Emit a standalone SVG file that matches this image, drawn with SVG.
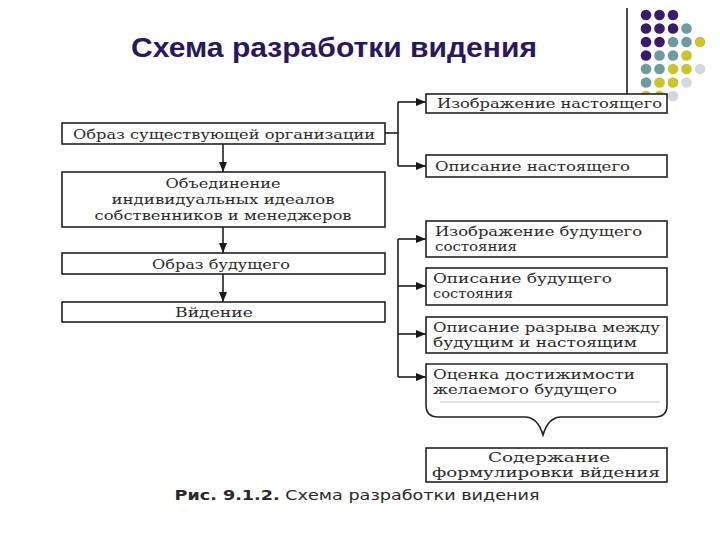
<svg xmlns="http://www.w3.org/2000/svg" width="720" height="540" viewBox="0 0 720 540">
<defs>
<marker id="ah" viewBox="0 0 10 8" refX="10" refY="4" markerWidth="10" markerHeight="8" markerUnits="userSpaceOnUse" orient="auto">
<path d="M0,0 L10,4 L0,8 Z" fill="#1a1a1a"/>
</marker>
<style>
.box{fill:#fff;stroke:#222;stroke-width:1.6}
.t{font-family:"DejaVu Serif","Liberation Serif",serif;font-size:13.5px;fill:#2a2a2a}
.c{text-anchor:middle}
.ln{fill:none;stroke:#1f1f1f;stroke-width:1.6}
.p{fill:#3a1a6a}.q{fill:#6e9c9e}.y{fill:#c9c52a}.g{fill:#d4d7df}
</style>
</defs>
<rect width="720" height="540" fill="#fff"/>
<text x="334" y="57" text-anchor="middle" font-family="'Liberation Sans',Arial,sans-serif" font-size="28" font-weight="bold" fill="#2b1660" textLength="406" lengthAdjust="spacingAndGlyphs">Схема разработки видения</text>
<g id="decor">
<line x1="627" y1="8" x2="627" y2="100" stroke="#111" stroke-width="1.5"/>
<circle class="p" cx="646" cy="15" r="5.3"/><circle class="p" cx="659.5" cy="15" r="5.3"/><circle class="p" cx="673" cy="15" r="5.3"/>
<circle class="p" cx="646" cy="28.5" r="5.3"/><circle class="p" cx="659.5" cy="28.5" r="5.3"/><circle class="p" cx="673" cy="28.5" r="5.3"/><circle class="q" cx="686.5" cy="28.5" r="5.3"/>
<circle class="p" cx="646" cy="42" r="5.3"/><circle class="p" cx="659.5" cy="42" r="5.3"/><circle class="q" cx="673" cy="42" r="5.3"/><circle class="q" cx="686.5" cy="42" r="5.3"/><circle class="y" cx="700" cy="42" r="5.3"/>
<circle class="p" cx="646" cy="55.5" r="5.3"/><circle class="q" cx="659.5" cy="55.5" r="5.3"/><circle class="q" cx="673" cy="55.5" r="5.3"/><circle class="y" cx="686.5" cy="55.5" r="5.3"/>
<circle class="q" cx="646" cy="69" r="5.3"/><circle class="q" cx="659.5" cy="69" r="5.3"/><circle class="y" cx="673" cy="69" r="5.3"/><circle class="y" cx="686.5" cy="69" r="5.3"/><circle class="g" cx="700" cy="69" r="5.3"/>
<circle class="q" cx="646" cy="82.5" r="5.3"/><circle class="y" cx="659.5" cy="82.5" r="5.3"/><circle class="y" cx="673" cy="82.5" r="5.3"/><circle class="g" cx="686.5" cy="82.5" r="5.3"/>
<circle class="y" cx="646" cy="96" r="5.3"/><circle class="y" cx="659.5" cy="96" r="5.3"/><circle class="g" cx="673" cy="96" r="5.3"/>
</g>
<g id="connectors">
<line class="ln" x1="223" y1="144" x2="223" y2="172" marker-end="url(#ah)"/>
<line class="ln" x1="223" y1="227" x2="223" y2="253" marker-end="url(#ah)"/>
<line class="ln" x1="223" y1="274" x2="223" y2="302" marker-end="url(#ah)"/>
<polyline class="ln" points="385,133 398,133"/>
<line class="ln" x1="398" y1="102" x2="398" y2="166"/>
<polyline class="ln" points="398,102 426,102" marker-end="url(#ah)"/>
<polyline class="ln" points="398,166 426,166" marker-end="url(#ah)"/>
<line class="ln" x1="398" y1="239" x2="398" y2="377"/>
<polyline class="ln" points="398,239 426,239" marker-end="url(#ah)"/>
<polyline class="ln" points="398,286 426,286" marker-end="url(#ah)"/>
<polyline class="ln" points="398,334 426,334" marker-end="url(#ah)"/>
<polyline class="ln" points="398,377 426,377" marker-end="url(#ah)"/>
</g>
<g id="n1"><rect class="box" x="62" y="123" width="323" height="21"/>
<text class="t c" x="224" y="139" textLength="302" lengthAdjust="spacingAndGlyphs">Образ существующей организации</text></g>
<g id="n2"><rect class="box" x="62" y="172" width="323" height="55"/>
<text class="t c" x="223" y="188" textLength="115" lengthAdjust="spacingAndGlyphs">Объединение</text>
<text class="t c" x="223" y="204" textLength="223" lengthAdjust="spacingAndGlyphs">индивидуальных идеалов</text>
<text class="t c" x="223" y="219.5" textLength="257" lengthAdjust="spacingAndGlyphs">собственников и менеджеров</text></g>
<g id="n3"><rect class="box" x="62" y="253" width="323" height="21"/>
<text class="t c" x="221" y="269" textLength="138" lengthAdjust="spacingAndGlyphs">Образ будущего</text></g>
<g id="n4"><rect class="box" x="62" y="302" width="323" height="20"/>
<text class="t c" x="214" y="317" textLength="78" lengthAdjust="spacingAndGlyphs">Вйдение</text></g>
<g id="r1"><rect class="box" x="426" y="94" width="241" height="19"/>
<text class="t" x="437" y="108" textLength="225" lengthAdjust="spacingAndGlyphs">Изображение настоящего</text></g>
<g id="r2"><rect class="box" x="426" y="155" width="241" height="22"/>
<text class="t" x="435" y="171" textLength="195" lengthAdjust="spacingAndGlyphs">Описание настоящего</text></g>
<g id="r3"><rect class="box" x="426" y="221" width="241" height="36"/>
<text class="t" x="435" y="236" textLength="207" lengthAdjust="spacingAndGlyphs">Изображение будущего</text>
<text class="t" x="435" y="251" textLength="82" lengthAdjust="spacingAndGlyphs">состояния</text></g>
<g id="r4"><rect class="box" x="426" y="268" width="241" height="37"/>
<text class="t" x="433" y="283" textLength="179" lengthAdjust="spacingAndGlyphs">Описание будущего</text>
<text class="t" x="433" y="298" textLength="80" lengthAdjust="spacingAndGlyphs">состояния</text></g>
<g id="r5"><rect class="box" x="426" y="317" width="241" height="36"/>
<text class="t" x="433" y="332" textLength="227" lengthAdjust="spacingAndGlyphs">Описание разрыва между</text>
<text class="t" x="433" y="347" textLength="204" lengthAdjust="spacingAndGlyphs">будущим и настоящим</text></g>
<g id="r6"><path class="box" d="M426,364 H667 V405 Q667,417 655,417 H560 Q548,418 543,435 Q538,418 526,417 H438 Q426,417 426,405 Z"/>
<line x1="440" y1="402" x2="660" y2="402" stroke="#c4c4c4" stroke-width="1"/>
<text class="t" x="433" y="379" textLength="202" lengthAdjust="spacingAndGlyphs">Оценка достижимости</text>
<text class="t" x="433" y="394" textLength="184" lengthAdjust="spacingAndGlyphs">желаемого будущего</text></g>
<g id="r7"><rect class="box" x="426" y="448" width="241" height="34"/>
<text class="t c" x="549" y="462" textLength="122" lengthAdjust="spacingAndGlyphs">Содержание</text>
<text class="t c" x="546" y="477" textLength="228" lengthAdjust="spacingAndGlyphs">формулировки вйдения</text></g>
<text x="357" y="500" text-anchor="middle" font-family="'DejaVu Sans',Verdana,sans-serif" font-size="14" fill="#2a2a2a" textLength="365" lengthAdjust="spacingAndGlyphs"><tspan font-weight="bold">Рис. 9.1.2.</tspan> Схема разработки видения</text>
</svg>
